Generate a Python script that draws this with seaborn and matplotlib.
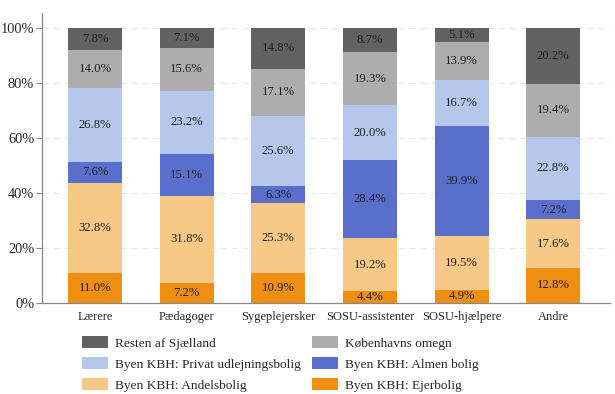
import numpy as np
import pandas as pd
import matplotlib
matplotlib.use('Agg')
import matplotlib.pyplot as plt
import seaborn as sns

# Categories and stacked shares (%) from bottom to top
jobs = ['Lærere', 'Pædagoger', 'Sygeplejersker', 'SOSU-assistenter', 'SOSU-hjælpere', 'Andre']
ejerbolig = [11.0, 7.2, 10.9, 4.4, 4.9, 12.8]
andelsbolig = [32.8, 31.8, 25.3, 19.2, 19.5, 17.6]
almen = [7.6, 15.1, 6.3, 28.4, 39.9, 7.2]
privat = [26.8, 23.2, 25.6, 20.0, 16.7, 22.8]
omegn = [14.0, 15.6, 17.1, 19.3, 13.9, 19.4]
resten = [7.8, 7.1, 14.8, 8.7, 5.1, 20.2]

series = [
    ('Byen KBH: Ejerbolig', ejerbolig, '#ef8f12'),
    ('Byen KBH: Andelsbolig', andelsbolig, '#f8c886'),
    ('Byen KBH: Almen bolig', almen, '#5a6fcc'),
    ('Byen KBH: Privat udlejningsbolig', privat, '#b5c8ec'),
    ('Københavns omegn', omegn, '#adadad'),
    ('Resten af Sjælland', resten, '#626262'),
]

sns.set_style('white')
plt.rcParams['font.family'] = ['Liberation Serif', 'DejaVu Serif']

fig = plt.figure(figsize=(6.15, 3.94), dpi=100)
ax = fig.add_axes([0.068, 0.231, 0.924, 0.736])

bottom = np.zeros(len(jobs))
handles = {}
for name, vals, color in series:
    df = pd.DataFrame({'job': jobs, 'share': vals})
    sns.barplot(data=df, x='job', y='share', color=color, bottom=bottom,
                width=0.59, ax=ax, zorder=2, linewidth=0, saturation=1)
    cont = ax.containers[-1]
    ax.bar_label(cont, labels=[f'{v:.1f}%' for v in vals], label_type='center',
                 fontsize=9.2, color='#222222')
    handles[name] = cont.patches[0]
    bottom = bottom + np.array(vals)

ax.set_xlim(-0.58, 5.62)
ax.set_ylim(0, 105.5)
ax.set_yticks([0, 20, 40, 60, 80, 100])
ax.set_yticklabels([f'{t}%' for t in [0, 20, 40, 60, 80, 100]], fontsize=10.4)
ax.tick_params(axis='x', labelsize=9, length=0, pad=6)
ax.tick_params(axis='y', left=True, length=4, color='#888888', pad=1.5)
ax.set_xlabel('')
ax.set_ylabel('')
ax.yaxis.grid(True, linestyle=(0, (6, 4)), color='#e8e8e8', linewidth=0.8, zorder=0)
ax.set_axisbelow(True)
for s in ['top', 'right']:
    ax.spines[s].set_visible(False)
for s in ['left', 'bottom']:
    ax.spines[s].set_color('#888888')
    ax.spines[s].set_linewidth(0.9)

order = ['Resten af Sjælland', 'Byen KBH: Privat udlejningsbolig', 'Byen KBH: Andelsbolig',
         'Københavns omegn', 'Byen KBH: Almen bolig', 'Byen KBH: Ejerbolig']
fig.legend([handles[k] for k in order], order, ncol=2, loc='upper left',
           bbox_to_anchor=(0.133, 0.146), frameon=False, fontsize=9.6,
           handlelength=2.0, handleheight=1.0, handletextpad=0.5,
           labelspacing=0.55, columnspacing=0.8, borderpad=0, borderaxespad=0)

fig.savefig('out.png', dpi=100)
